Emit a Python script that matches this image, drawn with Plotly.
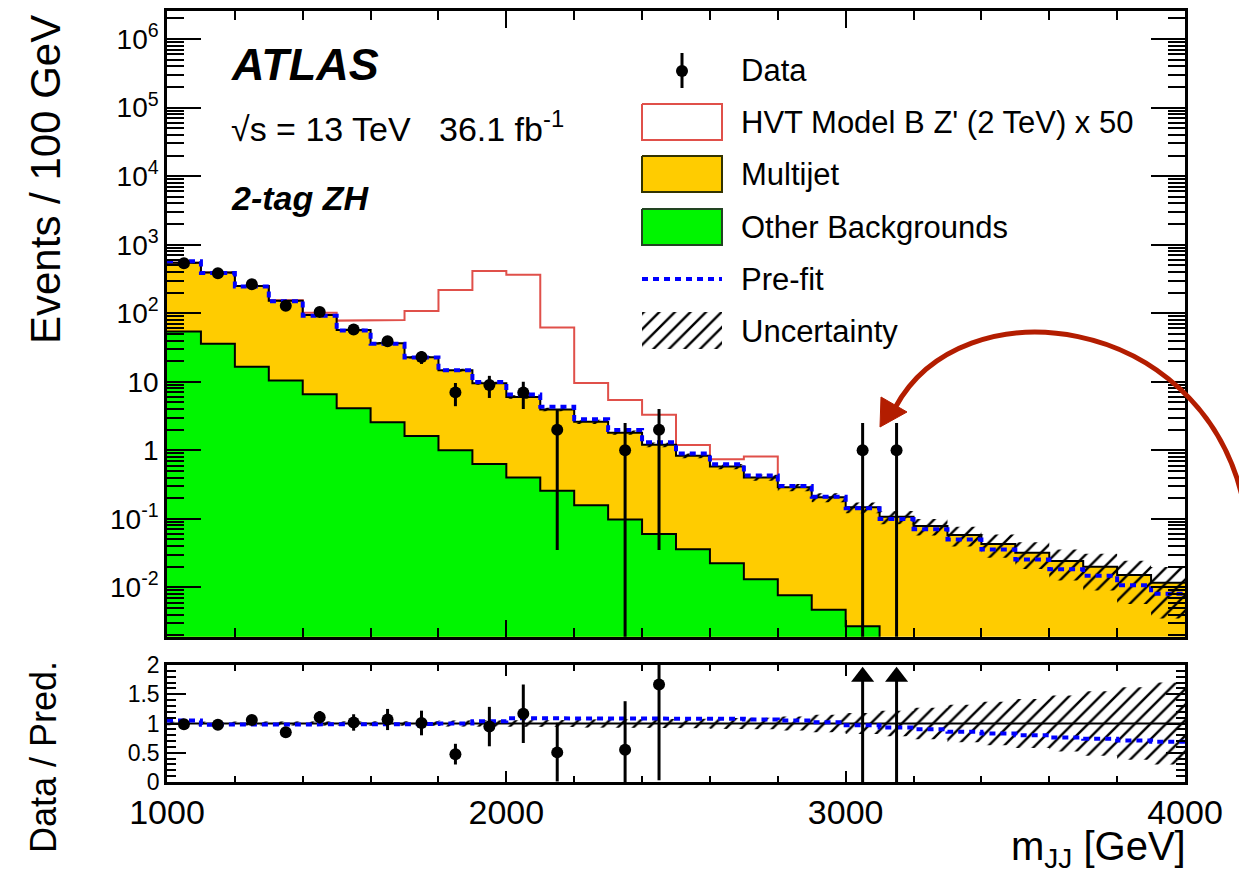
import plotly.graph_objects as go

# ---------------- data ----------------
bin_edges = [1000 + 100 * i for i in range(31)]

data_counts = [537, 384, 265, 129, 104, 58, 39, 23, 7, 9, 7, 2, 0, 1, 2,
               0, 0, 0, 0, 0, 1, 1, 0, 0, 0, 0, 0, 0, 0, 0]
data_err_up = [23, 20, 16, 11, 10, 8, 6.6, 4.8, 2.6, 3.2, 3.0, 2.0, 0, 1.5, 2.0,
               0, 0, 0, 0, 0, 1.5, 1.5, 0, 0, 0, 0, 0, 0, 0, 0]
data_err_down = [23, 20, 16, 11, 10, 8, 6.6, 4.8, 2.6, 3.2, 3.0, 1.965, 0, 1.0, 1.965,
                 0, 0, 0, 0, 0, 1.0, 1.0, 0, 0, 0, 0, 0, 0, 0, 0]

total_bkg = [545, 393, 250, 152, 94, 57, 36.5, 22.8, 14.7, 9.5, 6.0, 3.95, 2.6, 1.81, 1.2,
             0.83, 0.58, 0.40, 0.288, 0.206, 0.147, 0.107, 0.0785, 0.058, 0.043,
             0.032, 0.0242, 0.020, 0.0151, 0.0117]
other_bkg = [54, 36, 16.6, 10.4, 6.6, 4.1, 2.57, 1.62, 1.0, 0.63, 0.40, 0.257, 0.158,
             0.098, 0.060, 0.036, 0.0224, 0.0131, 0.0077, 0.0047, 0.0027,
             0, 0, 0, 0, 0, 0, 0, 0, 0]
hvt_x50 = [0, 0, 0, 3, 8, 21, 43, 85, 204, 405, 357, 58, 7.0, 3.6, 2.1, 0.36, 0.16, 0.41,
           0, 0, 0, 0, 0, 0, 0, 0, 0, 0, 0, 0]
prefit_ratio = [1.05, 0.98, 0.98, 0.98, 0.98, 0.98, 0.98, 0.99, 1.0, 1.04, 1.09, 1.09,
                1.09, 1.09, 1.09, 1.08, 1.08, 1.07, 1.05, 1.02, 0.97, 0.93, 0.90, 0.86,
                0.83, 0.80, 0.76, 0.74, 0.71, 0.69]
rel_unc = [0.03, 0.03, 0.03, 0.03, 0.03, 0.04, 0.04, 0.04, 0.05, 0.05, 0.06, 0.06, 0.07,
           0.07, 0.08, 0.08, 0.09, 0.10, 0.12, 0.15, 0.18, 0.22, 0.27, 0.32, 0.37, 0.42,
           0.48, 0.55, 0.62, 0.70]

main_tick_vals = [1e-2, 1e-1, 1, 10, 1e2, 1e3, 1e4, 1e5, 1e6]
main_tick_text = ["10<sup>-2</sup>", "10<sup>-1</sup>", "1", "10", "10<sup>2</sup>",
                  "10<sup>3</sup>", "10<sup>4</sup>", "10<sup>5</sup>", "10<sup>6</sup>"]
ratio_tick_vals = [0, 0.5, 1, 1.5, 2]
ratio_tick_text = ["0", "0.5", "1", "1.5", "2"]
x_tick_vals = [1000, 2000, 3000, 4000]

# ---------------- styling ----------------
FONT = "Liberation Sans, Arial, sans-serif"
ORANGE = "#FFCC00"
GREEN = "#00F500"
RED = "#E0504A"
BLUE = "#0000FF"
FLOOR = 1e-5

W, H = 1239, 882
ML, MR, MT, MB = 167, 54, 11, 100
PW, PH = W - ML - MR, H - MT - MB


def paper(px, py):
    return (px - ML) / PW, (H - MB - py) / PH


def step(edges, vals):
    xs, ys = [], []
    for i, v in enumerate(vals):
        xs += [edges[i], edges[i + 1]]
        ys += [v, v]
    return xs, ys


nb = len(total_bkg)
fig = go.Figure()

# ---- main panel: stacked fills ----
xs, ys = step(bin_edges, total_bkg)
fig.add_trace(go.Scatter(x=[bin_edges[0]] + xs + [bin_edges[-1]], y=[FLOOR] + ys + [FLOOR],
                         fill="toself", fillcolor=ORANGE, mode="lines", line=dict(width=0),
                         xaxis="x", yaxis="y", hoverinfo="skip"))
other_pos = [v if v > 0 else FLOOR for v in other_bkg]
xs_o, ys_o = step(bin_edges, other_pos)
fig.add_trace(go.Scatter(x=[bin_edges[0]] + xs_o + [bin_edges[-1]], y=[FLOOR] + ys_o + [FLOOR],
                         fill="toself", fillcolor=GREEN, mode="lines", line=dict(width=0),
                         xaxis="x", yaxis="y", hoverinfo="skip"))

# ---- signal (stacked on background), red outline ----
last_sig = max(i for i, v in enumerate(hvt_x50) if v > 0)
sig_tot = [total_bkg[i] + hvt_x50[i] for i in range(last_sig + 1)]
xs_s, ys_s = step(bin_edges[:last_sig + 2], sig_tot)
xs_s.append(bin_edges[last_sig + 1])
ys_s.append(total_bkg[last_sig])
fig.add_trace(go.Scatter(x=xs_s, y=ys_s, mode="lines", line=dict(color=RED, width=2),
                         xaxis="x", yaxis="y", hoverinfo="skip"))

# ---- black outlines ----
fig.add_trace(go.Scatter(x=xs, y=ys, mode="lines", line=dict(color="black", width=2),
                         xaxis="x", yaxis="y", hoverinfo="skip"))
fig.add_trace(go.Scatter(x=xs_o, y=ys_o, mode="lines", line=dict(color="black", width=2),
                         xaxis="x", yaxis="y", hoverinfo="skip"))

# ---- uncertainty band (main) ----
up = [t * (1 + r) for t, r in zip(total_bkg, rel_unc)]
dn = [t * (1 - r) for t, r in zip(total_bkg, rel_unc)]
xu, yu = step(bin_edges, up)
xd, yd = step(bin_edges, dn)
hatch = dict(shape="/", fgcolor="black", bgcolor="rgba(0,0,0,0)", size=11, solidity=0.22,
             fillmode="replace")
fig.add_trace(go.Scatter(x=xu + xd[::-1], y=yu + yd[::-1], fill="toself",
                         fillcolor="rgba(0,0,0,0)", fillpattern=hatch, mode="lines",
                         line=dict(width=0), xaxis="x", yaxis="y", hoverinfo="skip"))

# ---- pre-fit ----
prefit = [t * r for t, r in zip(total_bkg, prefit_ratio)]
xp, yp = step(bin_edges, prefit)
fig.add_trace(go.Scatter(x=xp, y=yp, mode="lines",
                         line=dict(color=BLUE, width=4, dash="6px,5px"),
                         xaxis="x", yaxis="y", hoverinfo="skip"))

# ---- data (main) ----
centers = [(bin_edges[i] + bin_edges[i + 1]) / 2 for i in range(nb)]
ex, ey, px_, py_ = [], [], [], []
for i in range(nb):
    d = data_counts[i]
    if d <= 0:
        continue
    lo = max(d - data_err_down[i], 1e-4)
    hi = d + data_err_up[i]
    ex += [centers[i], centers[i], None]
    ey += [lo, hi, None]
    px_.append(centers[i])
    py_.append(d)
fig.add_trace(go.Scatter(x=ex, y=ey, mode="lines", line=dict(color="black", width=3),
                         xaxis="x", yaxis="y", hoverinfo="skip"))
fig.add_trace(go.Scatter(x=px_, y=py_, mode="markers", marker=dict(color="black", size=12),
                         xaxis="x", yaxis="y"))

# ---- ratio panel ----
fig.add_trace(go.Scatter(x=[bin_edges[0], bin_edges[-1]], y=[1, 1], mode="lines",
                         line=dict(color="black", width=2), xaxis="x2", yaxis="y2",
                         hoverinfo="skip"))
ru, rd = [1 + r for r in rel_unc], [1 - r for r in rel_unc]
xru, yru = step(bin_edges, ru)
xrd, yrd = step(bin_edges, rd)
fig.add_trace(go.Scatter(x=xru + xrd[::-1], y=yru + yrd[::-1], fill="toself",
                         fillcolor="rgba(0,0,0,0)", fillpattern=hatch, mode="lines",
                         line=dict(width=0), xaxis="x2", yaxis="y2", hoverinfo="skip"))
xpr, ypr = step(bin_edges, prefit_ratio)
fig.add_trace(go.Scatter(x=xpr, y=ypr, mode="lines",
                         line=dict(color=BLUE, width=4, dash="6px,5px"),
                         xaxis="x2", yaxis="y2", hoverinfo="skip"))

rex, rey, rpx, rpy, arx, ary = [], [], [], [], [], []
for i in range(nb):
    d = data_counts[i]
    if d <= 0:
        continue
    t = total_bkg[i]
    r = d / t
    lo = max((d - data_err_down[i]) / t, 0)
    hi = (d + data_err_up[i]) / t
    if r > 2:
        rex += [centers[i], centers[i], None]
        rey += [lo, 1.9, None]
        arx.append(centers[i])
        ary.append(1.8)
    else:
        rex += [centers[i], centers[i], None]
        rey += [lo, hi, None]
        rpx.append(centers[i])
        rpy.append(r)
fig.add_trace(go.Scatter(x=rex, y=rey, mode="lines", line=dict(color="black", width=3),
                         xaxis="x2", yaxis="y2", hoverinfo="skip"))
fig.add_trace(go.Scatter(x=rpx, y=rpy, mode="markers", marker=dict(color="black", size=12),
                         xaxis="x2", yaxis="y2"))
fig.add_trace(go.Scatter(x=arx, y=ary, mode="markers",
                         marker=dict(color="black", size=20, symbol="triangle-up"),
                         xaxis="x2", yaxis="y2", hoverinfo="skip"))

# ---- legend (drawn in an overlay axis measured in pixels) ----
LX0, LX1 = 642, 722
fig.add_trace(go.Scatter(x=[682, 682], y=[53, 88], mode="lines", line=dict(color="black", width=3),
                         xaxis="x3", yaxis="y3", hoverinfo="skip"))
fig.add_trace(go.Scatter(x=[682], y=[71], mode="markers", marker=dict(color="black", size=12),
                         xaxis="x3", yaxis="y3", hoverinfo="skip"))


def box(y0, y1, fillc, linec, lw):
    fig.add_trace(go.Scatter(x=[LX0, LX1, LX1, LX0, LX0], y=[y0, y0, y1, y1, y0],
                             fill="toself", fillcolor=fillc, mode="lines",
                             line=dict(color=linec, width=lw), xaxis="x3", yaxis="y3",
                             hoverinfo="skip"))


box(104, 140, "white", RED, 2)
box(156, 192, ORANGE, "#333300", 2)
box(209, 245, GREEN, "#224422", 2)
fig.add_trace(go.Scatter(x=[LX0, LX1], y=[279, 279], mode="lines",
                         line=dict(color=BLUE, width=4, dash="6px,5px"),
                         xaxis="x3", yaxis="y3", hoverinfo="skip"))
fig.add_trace(go.Scatter(x=[LX0, LX1, LX1, LX0, LX0], y=[312, 312, 349, 349, 312],
                         fill="toself", fillcolor="rgba(0,0,0,0)", fillpattern=hatch,
                         mode="lines", line=dict(width=0), xaxis="x3", yaxis="y3",
                         hoverinfo="skip"))

legend_labels = ["Data", "HVT Model B Z' (2 TeV) x 50", "Multijet", "Other Backgrounds",
                 "Pre-fit", "Uncertainty"]
legend_y = [71, 122, 174, 227, 279, 331]

annotations = []
for lab, ly in zip(legend_labels, legend_y):
    xx, yy = paper(739, ly)
    annotations.append(dict(text=lab, x=xx, y=yy, xref="paper", yref="paper",
                            xanchor="left", yanchor="middle", showarrow=False,
                            font=dict(size=31, family=FONT, color="black")))

for txt, ty, size in [("<b><i>ATLAS</i></b>", 65, 45),
                      ("√s = 13 TeV   36.1 fb<sup>-1</sup>", 126, 34),
                      ("<b><i>2-tag ZH</i></b>", 198, 34)]:
    xx, yy = paper(229, ty)
    annotations.append(dict(text=txt, x=xx, y=yy, xref="paper", yref="paper",
                            xanchor="left", yanchor="middle", showarrow=False,
                            font=dict(size=size, family=FONT, color="black")))

xx, yy = paper(45, 180)
annotations.append(dict(text="Events / 100 GeV", x=xx, y=yy, xref="paper", yref="paper",
                        textangle=-90, xanchor="center", yanchor="middle", showarrow=False,
                        font=dict(size=42, family=FONT, color="black")))
xx, yy = paper(43, 757)
annotations.append(dict(text="Data / Pred.", x=xx, y=yy, xref="paper", yref="paper",
                        textangle=-90, xanchor="center", yanchor="middle", showarrow=False,
                        font=dict(size=36, family=FONT, color="black")))
xx, yy = paper(1188, 849)
annotations.append(dict(text="m<sub>JJ</sub> [GeV]", x=xx, y=yy, xref="paper", yref="paper",
                        xanchor="right", yanchor="middle", showarrow=False,
                        font=dict(size=40, family=FONT, color="black")))

# ---- red curved arrow ----
ARROW = "#B31D00"


def pp(px, py):
    a, b = paper(px, py)
    return f"{a:.5f},{b:.5f}"


shapes = [
    dict(type="path", xref="paper", yref="paper",
         path=f"M {pp(1243, 500)} C {pp(1200, 312)} {pp(962, 283)} {pp(895, 408)}",
         line=dict(color=ARROW, width=5)),
    dict(type="path", xref="paper", yref="paper",
         path=f"M {pp(880, 427)} L {pp(881, 397)} L {pp(907, 412)} Z",
         fillcolor=ARROW, line=dict(color=ARROW, width=1)),
]

minor_log = [k * 10 ** e for e in range(-3, 7) for k in range(2, 10)]

axis_common = dict(showline=True, linewidth=2.5, linecolor="black", mirror="ticks",
                   ticks="inside", tickcolor="black", tickwidth=2, showgrid=False,
                   zeroline=False, automargin=False)

main_bottom = (H - MB - 636.7) / PH
ratio_top = (H - MB - 665) / PH

fig.update_layout(
    width=W, height=H, margin=dict(l=ML, r=MR, t=MT, b=MB, autoexpand=False),
    paper_bgcolor="white", plot_bgcolor="white", showlegend=False,
    font=dict(family=FONT, color="black"),
    xaxis=dict(domain=[0, 1], anchor="y", range=[1000, 4000], tickvals=x_tick_vals,
               showticklabels=False, ticklen=17,
               minor=dict(tick0=1000, dtick=200, ticks="inside", ticklen=9, tickwidth=2,
                          tickcolor="black"), **axis_common),
    yaxis=dict(domain=[main_bottom, 1], anchor="x", type="log", range=[-2.72, 6.41],
               tickvals=main_tick_vals, ticktext=main_tick_text, ticklen=34,
               tickfont=dict(size=28),
               minor=dict(tickvals=minor_log, ticks="inside", ticklen=17, tickwidth=2,
                          tickcolor="black"), **axis_common),
    xaxis2=dict(domain=[0, 1], anchor="y2", range=[1000, 4000], tickvals=x_tick_vals,
                ticktext=[str(v) for v in x_tick_vals], ticklen=11,
                tickfont=dict(size=34), ticklabelstandoff=-2,
                minor=dict(tick0=1000, dtick=200, ticks="inside", ticklen=6, tickwidth=2,
                           tickcolor="black"), **axis_common),
    yaxis2=dict(domain=[0, ratio_top], anchor="x2", range=[0, 2], tickvals=ratio_tick_vals,
                ticktext=ratio_tick_text, ticklen=19, tickfont=dict(size=23),
                minor=dict(tick0=0, dtick=0.1, ticks="inside", ticklen=9, tickwidth=2,
                           tickcolor="black"), **axis_common),
    xaxis3=dict(overlaying="x", anchor="y3", range=[ML, W - MR], visible=False,
                automargin=False),
    yaxis3=dict(overlaying="y", anchor="x3", range=[636.7, MT], visible=False,
                automargin=False),
    annotations=annotations, shapes=shapes,
)

fig.write_html("out.html")
